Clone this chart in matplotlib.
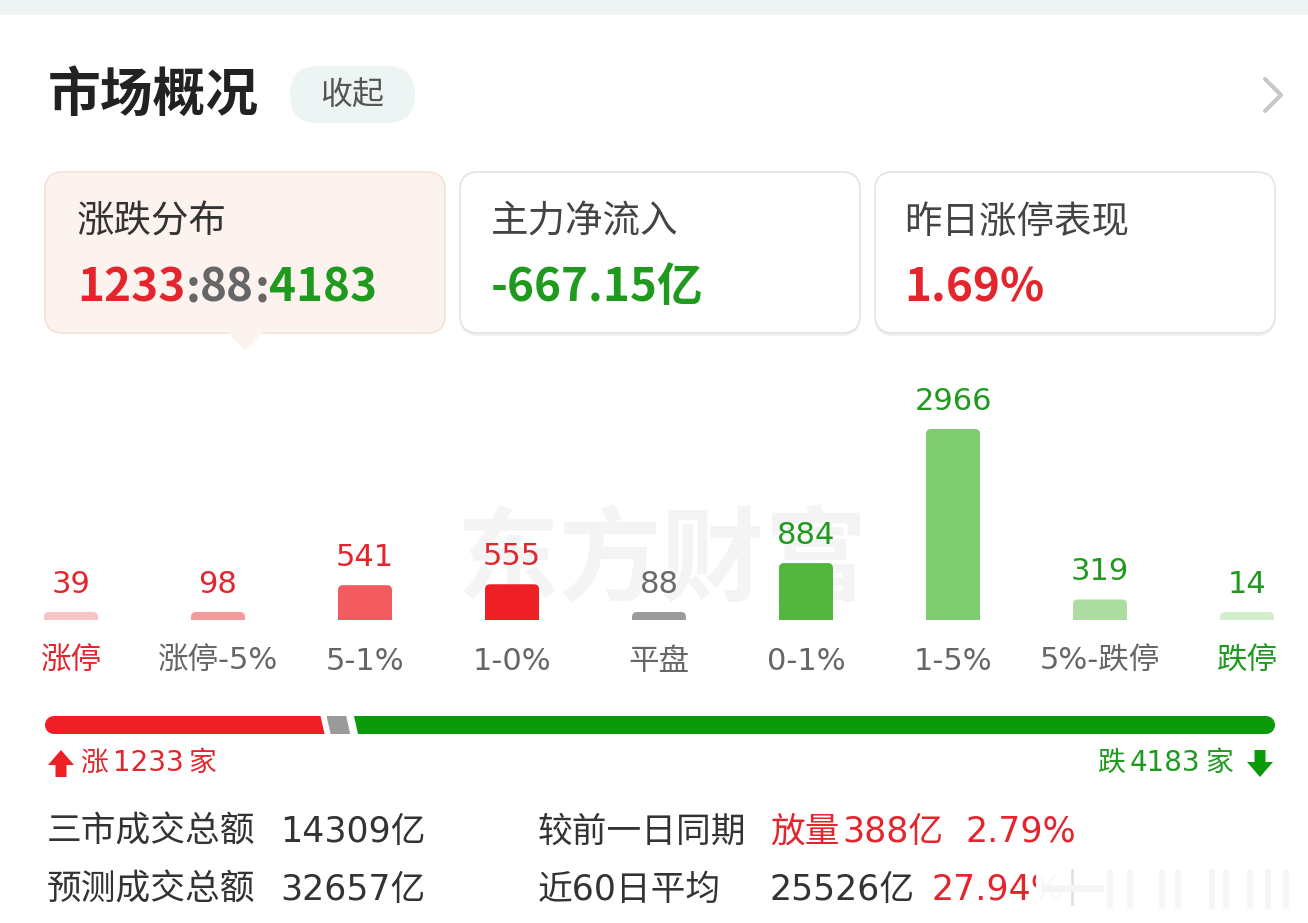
import numpy as np
import matplotlib.pyplot as plt
from matplotlib.patches import FancyBboxPatch, Polygon, Circle, Rectangle

# latin digits from DejaVu (wider), CJK glyphs fall back to Noto
plt.rcParams['font.family'] = ['DejaVu Sans', 'Noto Sans CJK SC']
CJK = ['Noto Sans CJK SC', 'DejaVu Sans']

W, H = 1308, 923

# data
categories = ['涨停', '涨停-5%', '5-1%', '1-0%', '平盘', '0-1%', '1-5%', '5%-跌停', '跌停']
counts = [39, 98, 541, 555, 88, 884, 2966, 319, 14]
bar_colors = ['#f7c4c6', '#f29a9c', '#f25b5f', '#ee1f25', '#9a9a9a',
              '#55b63f', '#80cc70', '#acdca0', '#d4eecd']
value_colors = ['#e3262e'] * 4 + ['#6a6a6a'] + ['#1f9a1f'] * 4
label_colors = ['#e3262e'] + ['#666666'] * 7 + ['#1f9a1f']

up_count, flat_count, down_count = 1233, 88, 4183
main_inflow = '-667.15亿'
limit_up_perf = '1.69%'

total_turnover = '14309亿'
forecast_turnover = '32657亿'
vs_prev = '388亿'
vs_prev_pct = '2.79%'
avg60 = '25526亿'
avg60_pct = '27.94%'

RED = '#e3262e'
GREEN = '#1f9a1f'
DARK = '#333333'

fig = plt.figure(figsize=(W / 100, H / 100), dpi=100)
ui = fig.add_axes([0, 0, 1, 1])
ui.set_xlim(0, W)
ui.set_ylim(H, 0)
ui.axis('off')
renderer = fig.canvas.get_renderer()


def run(x, y, pieces, **kw):
    # write coloured pieces one after another on the same line
    for s, c, gap in pieces:
        x += gap
        t = ui.text(x, y, s, color=c, ha='left', va='center', **kw)
        x = t.get_window_extent(renderer=renderer).x1
    return x


# top strip and header
ui.add_patch(Rectangle((0, 0), W, 15, fc='#eef3f3', ec='none'))
ui.text(48, 95, '市场概况', fontsize=38, weight='bold', color='#222222', va='center', family=CJK)
ui.add_patch(FancyBboxPatch((290, 66), 125, 57, boxstyle='round,pad=0,rounding_size=28',
                            fc='#edf4f4', ec='none'))
ui.text(352, 95, '收起', fontsize=23, color='#555555', ha='center', va='center', family=CJK)
ui.plot([1265, 1281, 1265], [79, 95, 111], color='#c8c8c8', lw=3, solid_capstyle='round')

# summary cards
cards = [(45, '#fdf3ee', '#f5e0d6'), (460, 'white', '#e3e3e3'), (875, 'white', '#e3e3e3')]
for cx, fc, ec in cards:
    if fc == 'white':
        ui.add_patch(FancyBboxPatch((cx, 175), 400, 161, boxstyle='round,pad=0,rounding_size=18',
                                    fc='#f1f1f1', ec='none'))
    ui.add_patch(FancyBboxPatch((cx, 172), 400, 161, boxstyle='round,pad=0,rounding_size=18',
                                fc=fc, ec=ec, lw=1.2))
ui.add_patch(Polygon([(227, 332), (263, 332), (245, 350)], closed=True, fc='#fdf3ee', ec='none'))

ui.text(77, 222, '涨跌分布', fontsize=27, color=DARK, va='center', family=CJK)
ui.text(491, 222, '主力净流入', fontsize=27, color='#444444', va='center', family=CJK)
ui.text(904, 222, '昨日涨停表现', fontsize=27, color='#444444', va='center', family=CJK)

run(77, 288, [(str(up_count), RED, 0), (':', '#666666', 0), (str(flat_count), '#666666', 0),
              (':', '#666666', 0), (str(down_count), GREEN, 0)],
    fontsize=33, weight='bold', family=CJK)
ui.text(491, 288, main_inflow, fontsize=33, weight='bold', color=GREEN, va='center', family=CJK)
ui.text(904, 288, limit_up_perf, fontsize=33, weight='bold', color=RED, va='center', family=CJK)

# watermark
ui.text(662, 563, '东方财富', fontsize=74, weight='bold', color='#f4f4f4',
        ha='center', va='center', zorder=0, family=CJK)

# bar chart
n = len(counts)
step = 147
base_y, max_px = 620, 191
ax = fig.add_axes([(71 - step / 2) / W, (H - base_y) / H, n * step / W, max_px / H])
ax.patch.set_alpha(0)
ax.set_xlim(-0.5, n - 0.5)
ax.set_ylim(0, max(counts))
ax.axis('off')

min_val = max(counts) * 8 / max_px
draw_h = np.maximum(counts, min_val)
bars = ax.bar(np.arange(n), draw_h, width=54 / step, color=bar_colors)

y_per_px = max(counts) / max_px
r_px = 5
for b in bars:
    b.set_visible(False)
    patch = FancyBboxPatch((b.get_x(), -r_px * y_per_px), b.get_width(),
                           b.get_height() + r_px * y_per_px,
                           boxstyle=f'round,pad=0,rounding_size={r_px / step}',
                           mutation_aspect=y_per_px * step,
                           fc=b.get_facecolor(), ec='none')
    ax.add_patch(patch)

for i, (v, h) in enumerate(zip(counts, draw_h)):
    ax.annotate(str(v), (i, h), xytext=(0, 20), textcoords='offset points',
                ha='center', va='center', fontsize=22, color=value_colors[i],
                annotation_clip=False)
    ax.annotate(categories[i], (i, 0), xytext=(0, -30), textcoords='offset points',
                ha='center', va='center', fontsize=22, color=label_colors[i],
                annotation_clip=False)

# up / flat / down ratio bar
x0, x1 = 45, 1275
top, bot = 716, 734
rad = (bot - top) / 2
total = up_count + flat_count + down_count
b1 = x0 + up_count / total * (x1 - x0)
b2 = b1 + flat_count / total * (x1 - x0)
gap, sl = 8, 2
ui.add_patch(Circle((x0 + rad, top + rad), rad, fc='#ee1f25', ec='none'))
ui.add_patch(Polygon([(x0 + rad, top), (b1 + 2 - sl, top), (b1 + 2 + sl, bot), (x0 + rad, bot)],
                     fc='#ee1f25', ec='none'))
ui.add_patch(Polygon([(b1 + gap - sl, top), (b2 + gap - sl, top), (b2 + gap + sl, bot),
                      (b1 + gap + sl, bot)], fc='#9a9a9a', ec='none'))
ui.add_patch(Polygon([(b2 + 2 * gap - sl, top), (x1 - rad, top), (x1 - rad, bot),
                      (b2 + 2 * gap + sl, bot)], fc='#0a9a0a', ec='none'))
ui.add_patch(Circle((x1 - rad, top + rad), rad, fc='#0a9a0a', ec='none'))

# arrows + counts
ui.add_patch(Polygon([(48, 765), (61, 750), (74, 765), (66.5, 765), (66.5, 777),
                      (55.5, 777), (55.5, 765)], fc='#ee1f25', ec='none'))
run(80, 763, [('涨', RED, 0), (str(up_count), RED, 5), ('家', RED, 5)], fontsize=20)
ui.add_patch(Polygon([(1247, 762), (1260, 777), (1273, 762), (1265.5, 762), (1265.5, 750),
                      (1254.5, 750), (1254.5, 762)], fc='#0a9a0a', ec='none'))
run(1097, 763, [('跌', GREEN, 0), (str(down_count), GREEN, 5), ('家', GREEN, 5)], fontsize=20)

# turnover rows
ui.text(47, 832, '三市成交总额', fontsize=25, color=DARK, va='center')
ui.text(280, 832, total_turnover, fontsize=25, color=DARK, va='center')
ui.text(538, 832, '较前一日同期', fontsize=25, color=DARK, va='center')
run(770, 832, [('放量', RED, 0), (vs_prev, RED, 3), (vs_prev_pct, RED, 22)], fontsize=25)

ui.text(47, 890, '预测成交总额', fontsize=25, color=DARK, va='center')
ui.text(280, 890, forecast_turnover, fontsize=25, color=DARK, va='center')
ui.text(538, 890, '近60日平均', fontsize=25, color=DARK, va='center')
run(770, 890, [(avg60, DARK, 0), (avg60_pct, RED, 16)], fontsize=25)

# weibo watermark covering the tail of the last line
ui.add_patch(FancyBboxPatch((1036, 866), 290, 46, boxstyle='round,pad=0,rounding_size=10',
                            fc='white', ec='none', alpha=0.97, zorder=5))
ui.plot([1072, 1072], [870, 904], color='#e2e2e2', lw=2, zorder=6)
ui.plot([1045, 1100], [888, 888], color='#f5f5f5', lw=5, zorder=6)
for lx in [1110, 1130, 1162, 1178, 1212, 1226, 1250, 1268, 1286]:
    ui.plot([lx, lx], [872, 906], color='#f5f5f5', lw=4, zorder=6)

fig.savefig('out.png', dpi=100)
